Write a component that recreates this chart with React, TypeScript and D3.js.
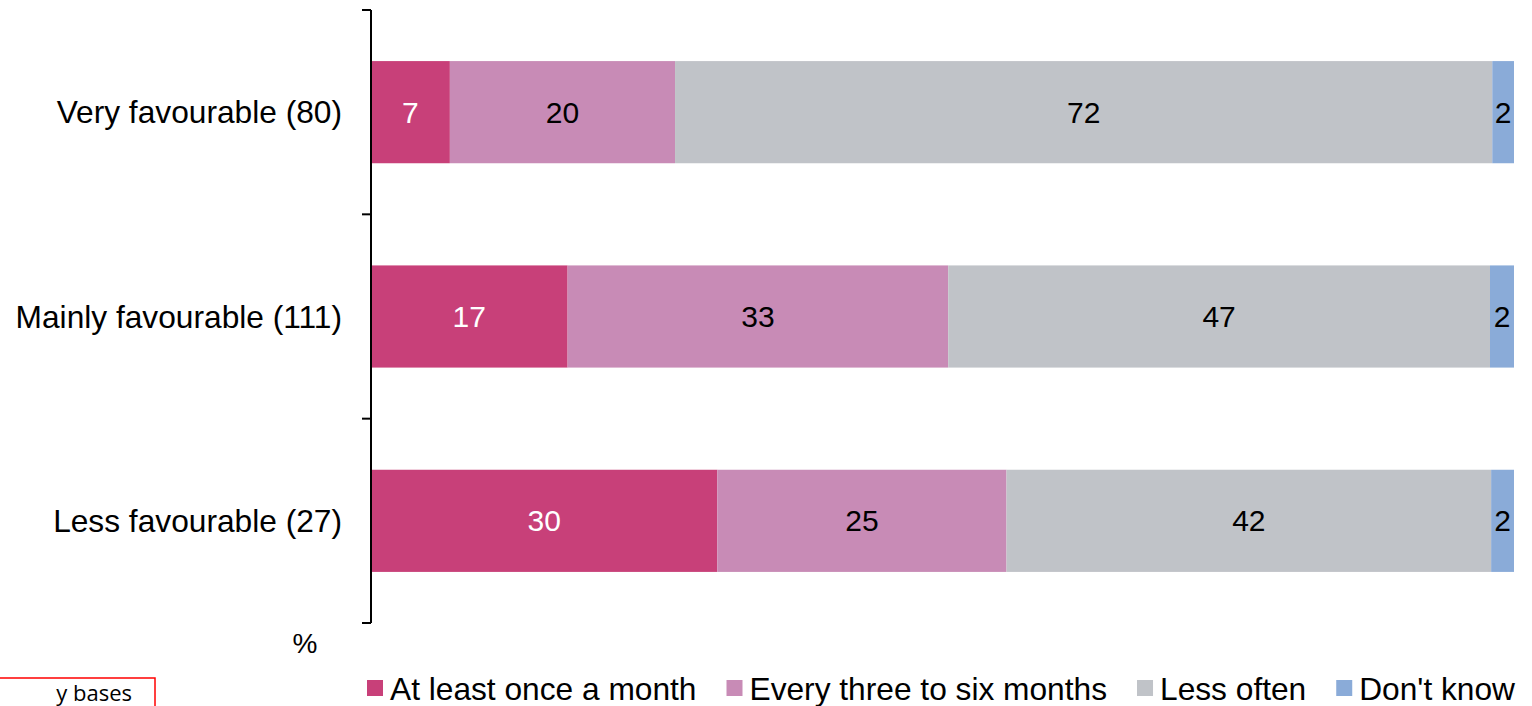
import React, { useEffect, useRef } from 'react';
import * as d3 from 'd3';

// categories (rows) and series values (% of row)
const categories = ['Very favourable (80)', 'Mainly favourable (111)', 'Less favourable (27)'];
const seriesNames = ['At least once a month', 'Every three to six months', 'Less often', "Don't know"];
const atLeastMonthly = [6.9, 17.2, 30.3];
const everyThreeToSix = [19.7, 33.3, 25.3];
const lessOften = [71.5, 47.4, 42.4];
const dontKnow = [1.9, 2.1, 2.0];
const colors = ['#C84079', '#C88BB6', '#C0C3C8', '#8AABD8'];
const labelColors = ['#ffffff', '#000000', '#000000', '#000000'];

const W = 1532;
const H = 706;
const FONT = '"Liberation Sans", Arial, sans-serif';

export default function App() {
  const svgRef = useRef<SVGSVGElement>(null);

  useEffect(() => {
    const svg = d3.select(svgRef.current);
    svg.selectAll('*').remove();

    const x0 = 371;
    const x = d3.scaleLinear().domain([0, 100]).range([x0, 1514]);
    const y = d3.scaleBand<string>()
      .domain(categories)
      .range([10, 623])
      .paddingInner(0.5)
      .paddingOuter(0.25);

    const series = [atLeastMonthly, everyThreeToSix, lessOften, dontKnow];
    const rows = categories.map((c, i) => {
      let acc = 0;
      return series.map((s, k) => {
        const seg = { cat: c, k, start: acc, end: acc + s[i], v: s[i] };
        acc += s[i];
        return seg;
      });
    }).flat();

    // bars
    svg.append('g').selectAll('rect')
      .data(rows)
      .join('rect')
      .attr('x', d => x(d.start))
      .attr('y', d => y(d.cat)!)
      .attr('width', d => x(d.end) - x(d.start))
      .attr('height', y.bandwidth())
      .attr('fill', d => colors[d.k]);

    // segment labels
    svg.append('g').selectAll('text')
      .data(rows)
      .join('text')
      .attr('x', d => (x(d.start) + x(d.end)) / 2)
      .attr('y', d => y(d.cat)! + y.bandwidth() / 2)
      .attr('dy', '0.35em')
      .attr('text-anchor', 'middle')
      .attr('font-family', FONT)
      .attr('font-size', 30)
      .attr('fill', d => labelColors[d.k])
      .text(d => Math.round(d.v));

    // y axis with ticks at band boundaries
    const step = y.step();
    const [r0, r1] = y.range();
    const ax = svg.append('g');
    ax.append('line')
      .attr('x1', x0).attr('x2', x0)
      .attr('y1', r0).attr('y2', r1)
      .attr('stroke', '#000').attr('stroke-width', 2);
    ax.selectAll('.tick')
      .data(d3.range(categories.length + 1))
      .join('line')
      .attr('class', 'tick')
      .attr('x1', x0 - 9).attr('x2', x0)
      .attr('y1', i => r0 + i * step).attr('y2', i => r0 + i * step)
      .attr('stroke', '#000').attr('stroke-width', 2);
    ax.selectAll('.cat')
      .data(categories)
      .join('text')
      .attr('class', 'cat')
      .attr('x', 342)
      .attr('y', d => y(d)! + y.bandwidth() / 2)
      .attr('dy', '0.35em')
      .attr('text-anchor', 'end')
      .attr('font-family', FONT)
      .attr('font-size', 31.7)
      .text(d => d);

    svg.append('text')
      .attr('x', 305).attr('y', 643).attr('dy', '0.35em')
      .attr('text-anchor', 'middle')
      .attr('font-family', FONT).attr('font-size', 28)
      .text('%');

    // legend
    const lg = svg.append('g');
    let lx = 367;
    seriesNames.forEach((name, k) => {
      lg.append('rect')
        .attr('x', lx).attr('y', 680)
        .attr('width', 16).attr('height', 16)
        .attr('fill', colors[k]);
      const t = lg.append('text')
        .attr('x', lx + 23).attr('y', 700)
        .attr('font-family', FONT).attr('font-size', 31.7)
        .text(name);
      const w = (t.node() as SVGTextElement).getComputedTextLength();
      lx += 23 + w + 30;
    });

    // cut-off note box at bottom left
    svg.append('rect')
      .attr('x', -10).attr('y', 678)
      .attr('width', 165).attr('height', 60)
      .attr('fill', 'none').attr('stroke', '#ff0000').attr('stroke-width', 1.5);
    svg.append('text')
      .attr('x', 132).attr('y', 701)
      .attr('text-anchor', 'end')
      .attr('font-family', '"Open Sans", sans-serif').attr('font-size', 22)
      .text('y bases');
  }, []);

  return (
    <svg
      ref={svgRef}
      width={W}
      height={H}
      style={{ position: 'absolute', left: 0, top: 0, background: '#fff' }}
    />
  );
}
